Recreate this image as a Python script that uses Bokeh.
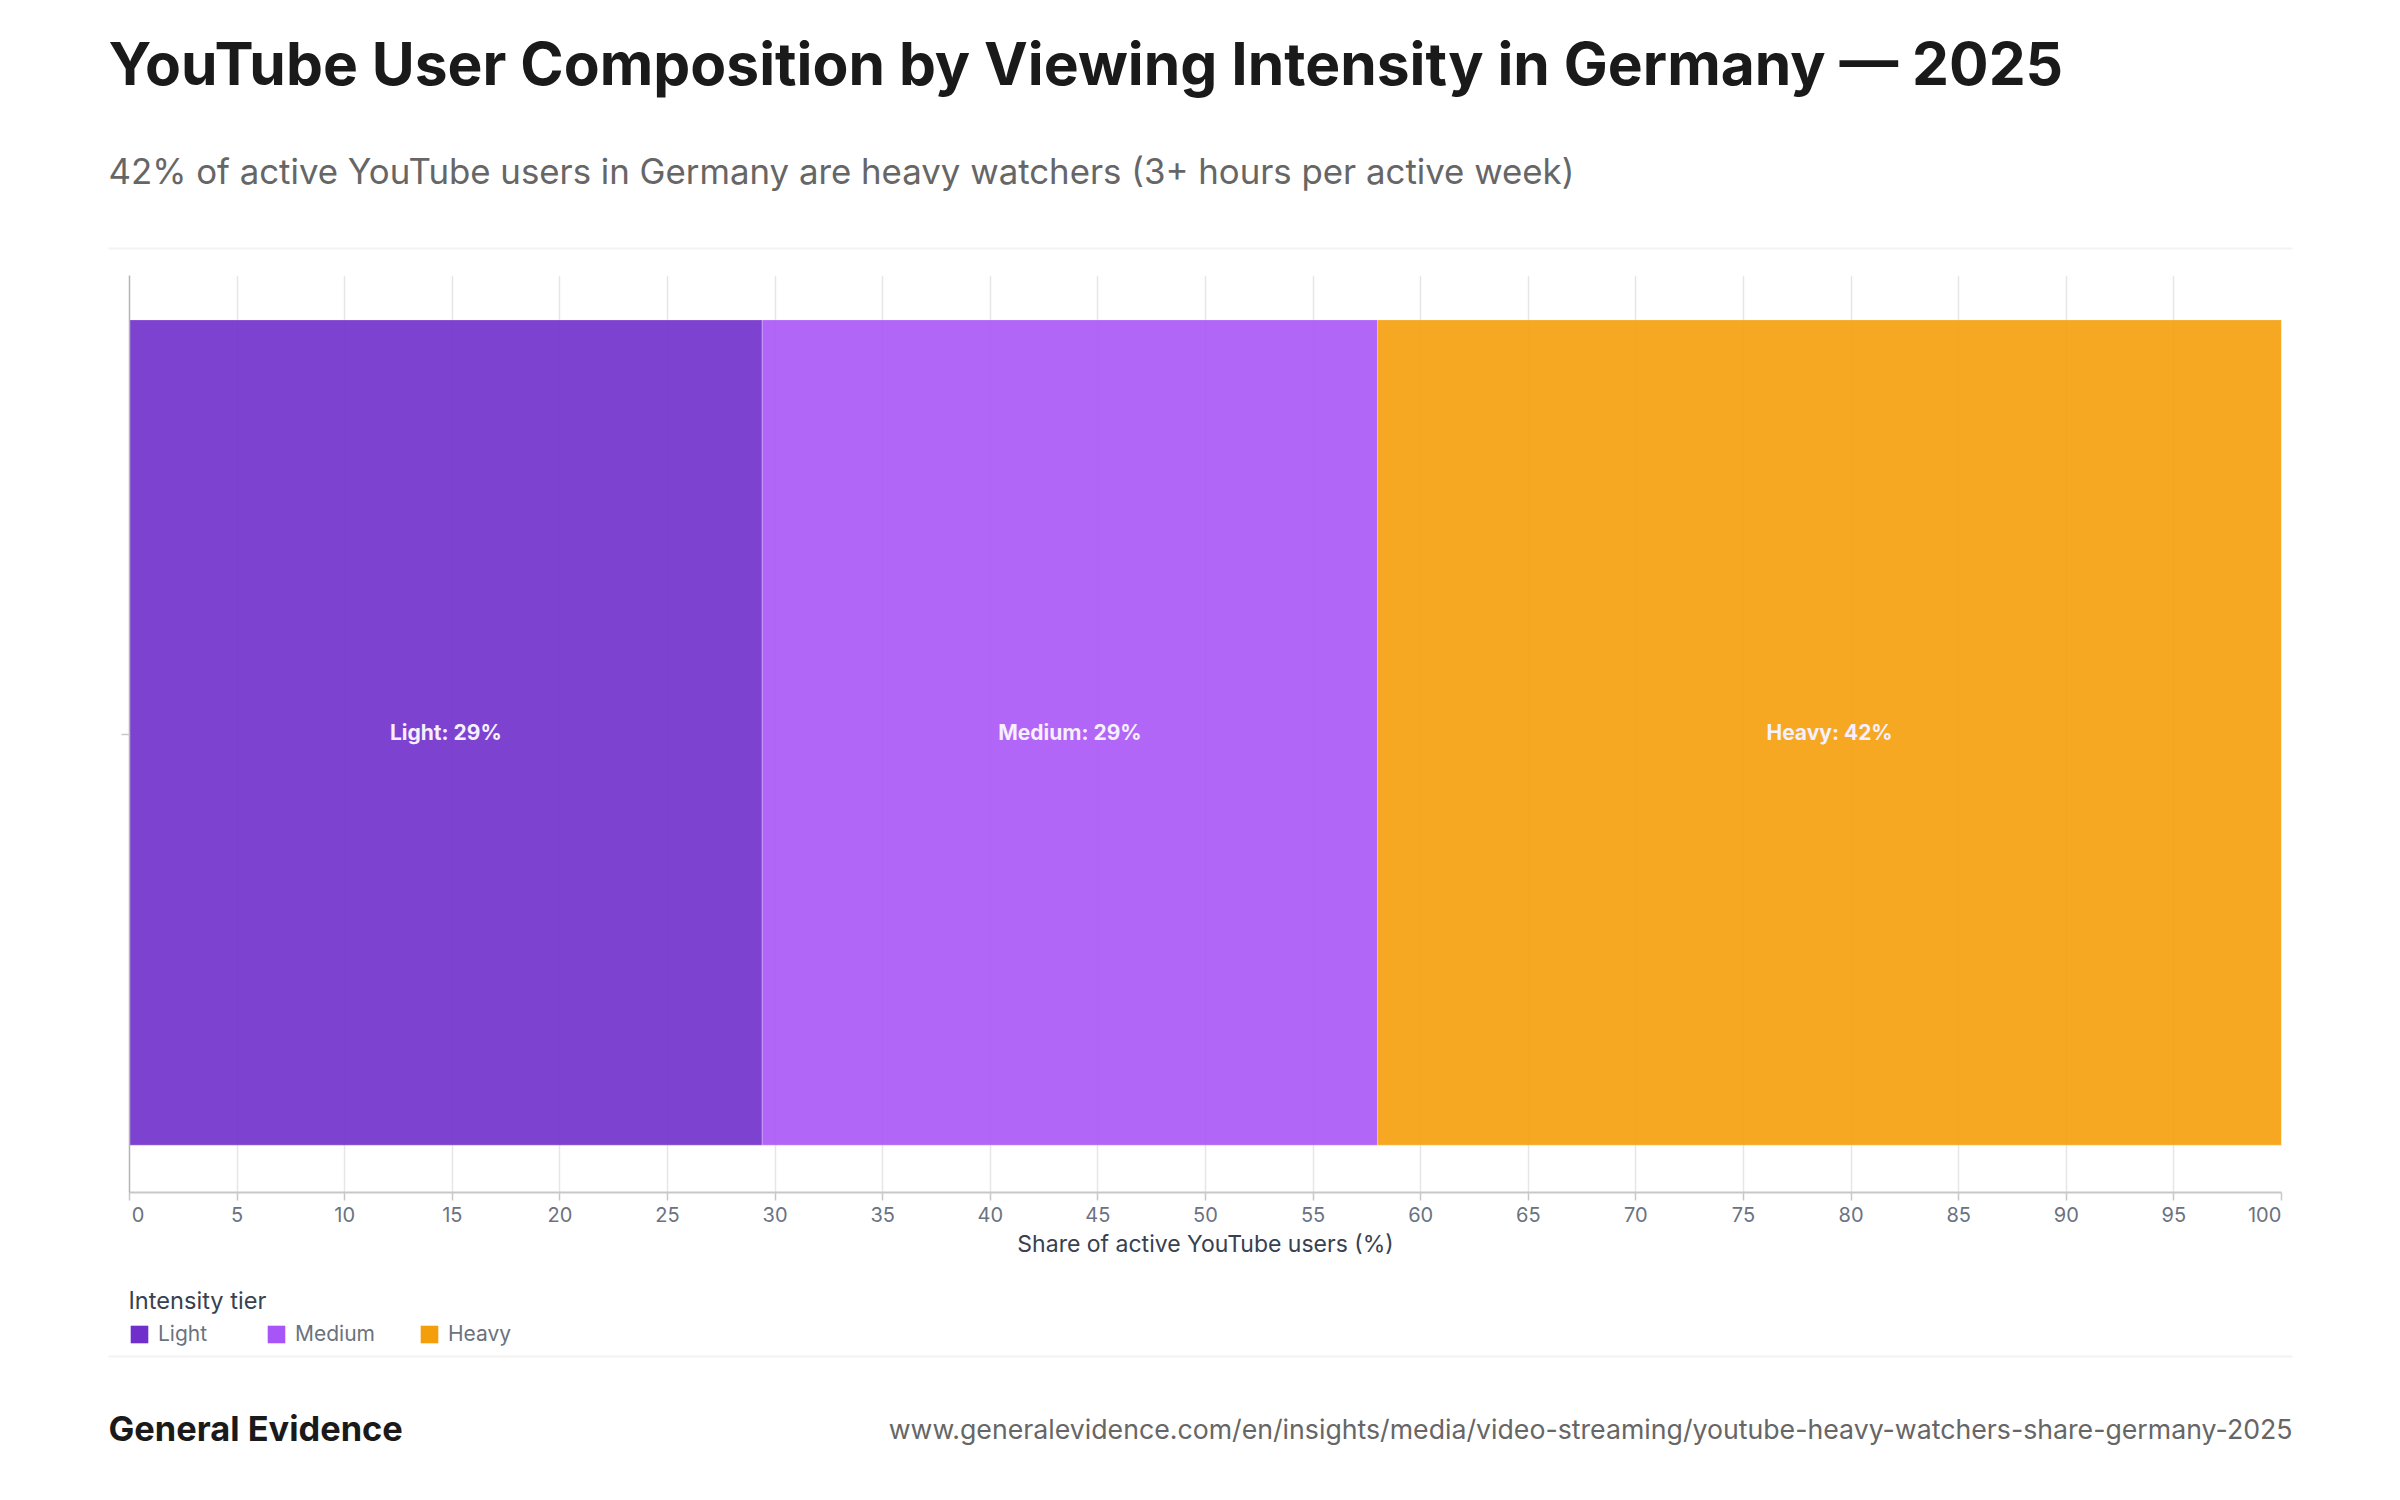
from bokeh.embed import file_html
from bokeh.resources import INLINE
from bokeh.core.properties import value
from bokeh.layouts import column
from bokeh.plotting import figure
from bokeh.transform import dodge
from bokeh.models import (Range1d, FactorRange, Label, BoxAnnotation, Legend, LegendItem,
                          FixedTicker, ColumnDataSource, LabelSet)

title = "YouTube User Composition by Viewing Intensity in Germany — 2025"
subtitle = "42% of active YouTube users in Germany are heavy watchers (3+ hours per active week)"
brand = "General Evidence"
source_url = "www.generalevidence.com/en/insights/media/video-streaming/youtube-heavy-watchers-share-germany-2025"
x_title = "Share of active YouTube users (%)"
legend_title = "Intensity tier"

tiers = ["Light", "Medium", "Heavy"]
shares = [29.4, 28.6, 42.0]
bar_labels = ["Light: 29%", "Medium: 29%", "Heavy: 42%"]
colors = ["#702ecb", "#a855f7", "#f59e0b"]
tick_values = list(range(0, 105, 5))
category = [" "]

FONT = "Inter"
W = 2392
HEAD_H, CHART_H, FOOT_H = 275, 995, 222
FOOT_TOP = HEAD_H + CHART_H


def pane(h):
    f = figure(width=W, height=h, output_backend="svg", toolbar_location=None,
               x_range=Range1d(0, W), y_range=Range1d(h, 0), x_axis_type=None, y_axis_type=None,
               min_border=0, outline_line_color=None, background_fill_color="white",
               border_fill_color="white", frame_align=False)
    f.xgrid.visible = False
    f.ygrid.visible = False
    return f


def text(f, s, x, y, size, color, style="normal", align="left"):
    f.add_layout(Label(x=x, y=y, text=s, text_font=FONT, text_font_size=size, text_color=color,
                       text_font_style=style, text_align=align, text_baseline="middle"))


def rule(f, y):
    f.add_layout(BoxAnnotation(left=108, right=2292, top=y - 1, bottom=y + 1, fill_color="#f3f3f3",
                               fill_alpha=1, line_color=None))


# Header
head = pane(HEAD_H)
text(head, title, 108, 63, "58.7px", "#1a1a1a", "bold")
text(head, subtitle, 108, 170, "34.8px", "#666666")
rule(head, 248)

# Chart
p = figure(width=W, height=CHART_H, output_backend="svg", toolbar_location=None,
           x_range=Range1d(0, 100), y_range=FactorRange(factors=category),
           min_border_left=129, min_border_right=W - 2281, min_border_top=0,
           min_border_bottom=CHART_H - (1192 - HEAD_H),
           outline_line_color=None, background_fill_color="white", border_fill_color="white",
           frame_align=False)
p.y_range.range_padding = 0
left, acc = [], []
t = 0
for s in shares:
    left.append(t)
    t += s
    acc.append(t)
src = ColumnDataSource(dict(y=category * 3, left=left, right=acc, color=colors, label=bar_labels,
                            mid=[(a + b) / 2 for a, b in zip(left, acc)]))
bar_y = dodge("y", 0.0016, range=p.y_range)
p.hbar(y=bar_y, left="left", right="right", height=0.9, fill_color="color", fill_alpha=0.9,
       line_color="white", line_alpha=0.25, line_width=1, source=src)
p.add_layout(LabelSet(x="mid", y=bar_y, text="label", source=src, text_color="#f6efff",
                      text_font=value(FONT), text_font_style="bold", text_font_size="21px",
                      text_align="center", text_baseline="middle"))

ax = p.xaxis[0]
ax.ticker = FixedTicker(ticks=tick_values)
# the end labels sit flush with the plot edges, as in the reference
ax.major_label_overrides = {0: "\u00a0\u00a0\u00a00", 100: "100" + "\u00a0" * 6}
ax.axis_label = x_title
ax.axis_label_text_font = FONT
ax.axis_label_text_font_style = "normal"
ax.axis_label_text_font_size = "23px"
ax.axis_label_text_color = "#374151"
ax.axis_label_standoff = 0
ax.major_label_text_font = FONT
ax.major_label_text_font_size = "20px"
ax.major_label_text_color = "#6b7280"
ax.major_label_standoff = 2
ax.axis_line_color = "#c8c8c8"
ax.axis_line_width = 2
ax.major_tick_line_color = "#c8c8c8"
ax.major_tick_line_width = 1.5
ax.major_tick_in = 0
ax.major_tick_out = 8
ax.minor_tick_line_color = None

ay = p.yaxis[0]
ay.major_label_text_font_size = "0px"
ay.axis_line_color = "#b4b4b4"
ay.axis_line_width = 1.5
ay.major_tick_line_color = "#c8c8c8"
ay.major_tick_line_width = 1.5
ay.major_tick_in = 0
ay.major_tick_out = 8
ay.minor_tick_line_color = None

p.xgrid.ticker = FixedTicker(ticks=tick_values)
p.xgrid.grid_line_color = "#e6e6e6"
p.xgrid.grid_line_width = 1.5
p.ygrid.grid_line_color = None

# Footer with legend
foot = pane(FOOT_H)
text(foot, legend_title, 128, 1300 - FOOT_TOP, "23.6px", "#374151")
swatches = [foot.rect([-100], [-100], 1, 1, fill_color=c, line_color=None) for c in colors]
legend_x = [128, 265, 418]
for name, r, lx in zip(tiers, swatches, legend_x):
    foot.add_layout(Legend(items=[LegendItem(label=name, renderers=[r])], orientation="horizontal",
                           location=(lx, FOOT_H - (1346 - FOOT_TOP)),
                           label_text_font=FONT, label_text_font_size="21px",
                           label_text_color="#6b7280", glyph_width=22, glyph_height=22,
                           label_standoff=8, padding=0, margin=0, border_line_color=None,
                           background_fill_alpha=0))
rule(foot, 1356 - FOOT_TOP)
text(foot, brand, 108, 1428 - FOOT_TOP, "34.4px", "#1a1a1a", "bold")
text(foot, source_url, 2292, 1428 - FOOT_TOP, "26.7px", "#666666", align="right")

layout = column(head, p, foot, spacing=0)
open("out.html", "w").write(file_html(layout, INLINE))
